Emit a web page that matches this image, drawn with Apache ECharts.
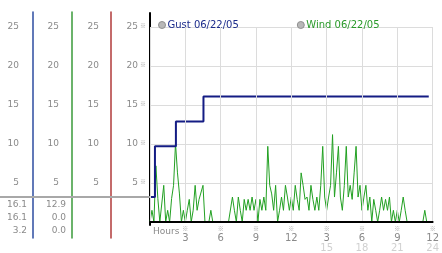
<!DOCTYPE html>
<html><head><meta charset="utf-8">
<script src="https://cdn.jsdelivr.net/npm/echarts@6/dist/echarts.min.js"></script>
<style>html,body{margin:0;padding:0;background:#fff}#c{width:442px;height:253px}</style>
</head><body><div id="c"></div>
<script>
// ---- data ----
const seriesNames = ['Gust 06/22/05', 'Wind 06/22/05'];
const yTickLabels = ['', '5', '10', '15', '20', '25'];
const xTickRow1 = ['', '3', '6', '9', '12', '3', '6', '9', '12'];
const xTickRow2 = ['', '', '', '', '', '15', '18', '21', '24'];
const xAxisTitle = 'Hours';
const gustHours = [0, 0.42, 2.2, 4.54, 23.67];
const gustValues = [3.2, 9.7, 12.9, 16.1, 16.1];
const windStepMinutes = 10;
const windValues = [
  0, 1.5, 0, 7.2, 3, 0, 0, 4.7, 0, 1.5,
  0, 3, 4.7, 10.1, 6.3, 3.6, 0, 1.5, 0, 1.5,
  2.9, 0, 1.5, 4.7, 1.5, 2.9, 2.9, 4.7, 0, 0,
  0, 1.5, 0, 0, 0, 0, 0, 0, 0, 0,
  0, 0, 3.2, 1.5, 0, 3.2, 1.5, 0, 2.9, 1.5,
  2.9, 1.5, 3.2, 1.5, 2.9, 0, 2.9, 1.5, 3.2, 1.5,
  9.7, 4.7, 3.6, 1.5, 4.7, 0, 1.5, 3.2, 1.5, 4.7,
  3.2, 1.5, 3.2, 1.5, 4.7, 2.9, 1.5, 6.3, 4.7, 2.9,
  3.2, 1.5, 4.7, 2.9, 1.5, 3.2, 1.5, 4.7, 9.7, 3.2,
  1.5, 3.2, 4.7, 11.2, 3.2, 6.3, 9.7, 3.2, 1.5, 4.7,
  9.7, 3.2, 4.7, 2.9, 6.3, 9.7, 3.2, 4.7, 1.5, 3.2,
  4.7, 1.5, 3.2, 0, 2.9, 1.5, 0, 1.5, 3.2, 1.5,
  2.9, 1.5, 3.2, 0, 1.5, 0, 1.5, 0, 1.5, 3.2,
  1.5, 0, 0, 0, 0, 0, 0, 0, 0, 0,
  1.5, 0, 0
];
const gustStats = ['16.1', '16.1', '3.2'];
const windStats = ['12.9', '0.0', '0.0'];

// ---- chart ----
const FONT = 'DejaVu Sans';
const gustData = gustHours.map((h, i) => [h, gustValues[i]]);
const windData = windValues.map((v, i) => [i * windStepMinutes / 60, v]);

function yLab(v) { const s = yTickLabels[Math.round(v / 5)]; return s || ''; }
const yRich = { v: { fontFamily: FONT, fontSize: 9, color: '#8a8a8a' }, m: { fontFamily: 'Noto Sans CJK SC', fontSize: 6, color: '#a0a0a0', padding: [0, 0, 2, 2] } };

function panelAxis(offset, margin, withMark) {
  return {
    type: 'value', gridIndex: 0, min: 0, max: 25, interval: 5, position: 'left', offset: offset,
    axisLine: { show: offset === 0, onZero: false, lineStyle: { color: '#000', width: 2 } },
    axisTick: { show: false },
    splitLine: { show: offset === 0, lineStyle: { color: '#dcdcdc', width: 1 } },
    axisLabel: {
      margin: margin,
      formatter: v => { const s = yLab(v); return s ? (withMark ? '{v|' + s + '}{m|※}' : '{v|' + s + '}') : ''; },
      rich: yRich
    }
  };
}
function lineAxis(grid, offset, color, width) {
  return {
    type: 'value', gridIndex: grid, min: 0, max: 1, position: 'left', offset: offset,
    axisLine: { show: true, onZero: false, lineStyle: { color: color, width: width } },
    axisTick: { show: false }, axisLabel: { show: false }, splitLine: { show: false }
  };
}
function hiddenX(grid) {
  return { type: 'value', gridIndex: grid, min: 0, max: 1, show: false };
}

const graphic = [];
gustStats.forEach((s, i) => graphic.push({ type: 'text', right: 442 - 27, top: 200 + i * 13,
  style: { text: s, font: '9px ' + FONT, fill: '#8a8a8a', align: 'right' } }));
windStats.forEach((s, i) => graphic.push({ type: 'text', right: 442 - 66, top: 200 + i * 13,
  style: { text: s, font: '9px ' + FONT, fill: '#8a8a8a', align: 'right' } }));
graphic.push({ type: 'text', left: 153, top: 227, style: { text: xAxisTitle, font: '9px ' + FONT, fill: '#8a8a8a' } });

const option = {
  animation: false,
  backgroundColor: '#fff',
  grid: [
    { left: 150, right: 3, top: 27, bottom: 28 },
    { left: 150, right: 3, top: 12, bottom: 15 },
    { left: 150, right: 3, top: 13, bottom: 28 },
    { left: 0, width: 150, top: 0, height: 197 }
  ],
  legend: {
    left: 153, top: 15, itemWidth: 7, itemHeight: 7, itemGap: 58, icon: 'circle',
    selectedMode: false,
    textStyle: { fontFamily: FONT, fontSize: 10, padding: [0, 0, 0, -3] },
    data: [
      { name: seriesNames[0], itemStyle: { color: '#b8b8b8', borderColor: '#909090', borderWidth: 1 }, textStyle: { color: '#1c2c8c' } },
      { name: seriesNames[1], itemStyle: { color: '#b8b8b8', borderColor: '#909090', borderWidth: 1 }, textStyle: { color: '#2a9a2a' } }
    ]
  },
  xAxis: [
    {
      type: 'value', gridIndex: 0, min: 0, max: 24, interval: 3, z: 5,
      axisLine: { show: true, onZero: false, lineStyle: { color: '#000', width: 2 } },
      axisTick: { show: false },
      splitLine: { show: true, lineStyle: { color: '#dcdcdc', width: 1 } },
      axisLabel: {
        margin: 3, showMinLabel: true, showMaxLabel: true,
        formatter: v => {
          const i = Math.round(v / 3);
          if (!xTickRow1[i]) return '';
          let s = '{m|※}\n{a|' + xTickRow1[i] + '}';
          if (xTickRow2[i]) s += '\n{b|' + xTickRow2[i] + '}';
          return s;
        },
        rich: {
          m: { fontFamily: 'Noto Sans CJK SC', fontSize: 6, color: '#a0a0a0', lineHeight: 8 },
          a: { fontFamily: FONT, fontSize: 10, color: '#8a8a8a', lineHeight: 10 },
          b: { fontFamily: FONT, fontSize: 10, color: '#d0d0d0', lineHeight: 10 }
        }
      }
    },
    hiddenX(1), hiddenX(2),
    { type: 'value', gridIndex: 3, min: 0, max: 1, position: 'bottom',
      axisLine: { show: true, onZero: false, lineStyle: { color: '#a8a8a8', width: 2 } },
      axisTick: { show: false }, axisLabel: { show: false }, splitLine: { show: false } }
  ],
  yAxis: [
    panelAxis(0, 4, true),
    panelAxis(39, 12, false),
    panelAxis(78, 13, false),
    panelAxis(117, 14, false),
    lineAxis(1, 117, '#2c4ca0', 1.5),
    lineAxis(1, 78, '#3a9a3a', 1.5),
    lineAxis(1, 39, '#b03a3a', 1.5),
    lineAxis(2, 0, '#000', 2),
    { type: 'value', gridIndex: 3, min: 0, max: 1, show: false }
  ],
  series: [
    { name: seriesNames[1], type: 'line', xAxisIndex: 0, yAxisIndex: 0, data: windData,
      showSymbol: false, symbol: 'none', lineStyle: { color: '#22a022', width: 1 }, itemStyle: { color: '#22a022' } },
    { name: seriesNames[0], type: 'line', xAxisIndex: 0, yAxisIndex: 0, data: gustData, step: 'end',
      showSymbol: false, symbol: 'none', lineStyle: { color: '#141c84', width: 2 }, itemStyle: { color: '#141c84' } }
  ],
  graphic: graphic
};
const chart = echarts.init(document.getElementById('c'), null, { renderer: 'canvas' });
chart.setOption(option);
</script>
</body></html>
